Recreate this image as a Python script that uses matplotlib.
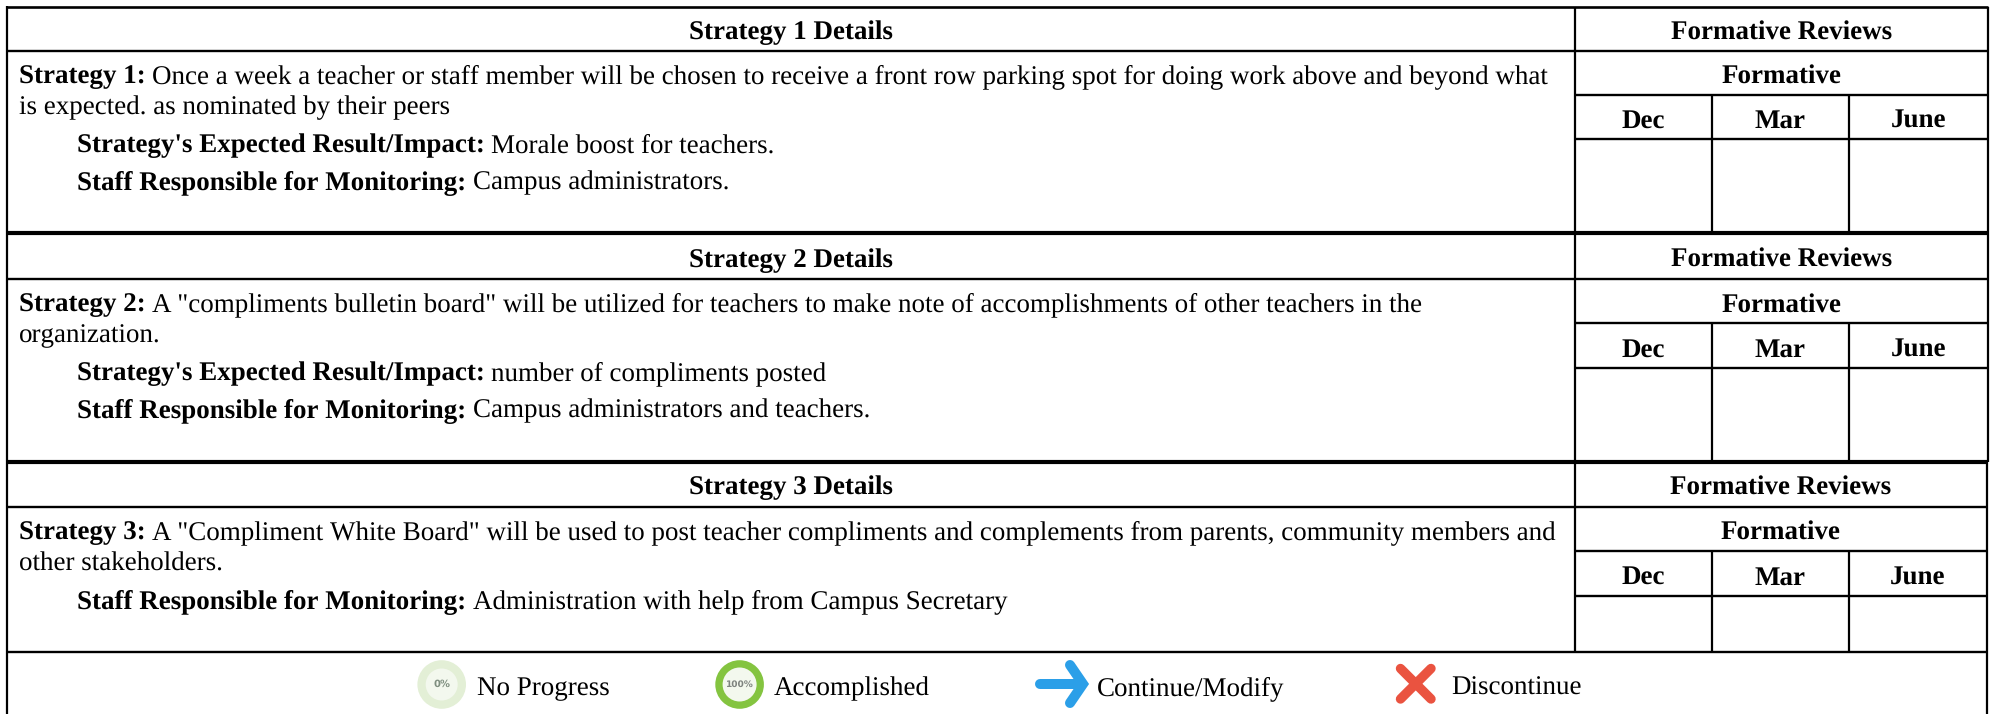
import matplotlib
matplotlib.use("Agg")
import matplotlib.pyplot as plt
from matplotlib.patches import Circle

plt.rcParams['font.family'] = ['Liberation Serif', 'DejaVu Serif']
plt.rcParams['text.hinting'] = 'none'
plt.rcParams['text.hinting_factor'] = 1

W, H = 1993, 714
FS = 19.5

# horizontal rules of each block: top, header, formative, months, bottom
block_rows = [[7, 51, 95, 139, 233], [233, 279, 323, 368, 461.5], [461.5, 507, 551, 596, 652]]
block_right = [1988, 1988, 1987]
col_x = [7, 1575, 1712, 1849]
title_shift = [0, 1.5, 0.5]

header_titles = ["Strategy 1 Details", "Strategy 2 Details", "Strategy 3 Details"]
review_title = "Formative Reviews"
formative_title = "Formative"
months = ["Dec", "Mar", "June"]

strategy_labels = ["Strategy 1:", "Strategy 2:", "Strategy 3:"]
strategy_lines = [
    ["Once a week a teacher or staff member will be chosen to receive a front row parking spot for doing work above and beyond what",
     "is expected. as nominated by their peers"],
    ["A \"compliments bulletin board\" will be utilized for teachers to make note of accomplishments of other teachers in the",
     "organization."],
    ["A \"Compliment White Board\" will be used to post teacher compliments and complements from parents, community members and",
     "other stakeholders."],
]
detail_rows = [
    [("Strategy's Expected Result/Impact:", "Morale boost for teachers."),
     ("Staff Responsible for Monitoring:", "Campus administrators.")],
    [("Strategy's Expected Result/Impact:", "number of compliments posted"),
     ("Staff Responsible for Monitoring:", "Campus administrators and teachers.")],
    [("Staff Responsible for Monitoring:", "Administration with help from Campus Secretary")],
]
legend_labels = ["No Progress", "Accomplished", "Continue/Modify", "Discontinue"]
legend_text_x = [477, 774, 1097, 1451]

fig = plt.figure(figsize=(W / 100, H / 100), dpi=100)
ax = fig.add_axes([0, 0, 1, 1])
ax.set_xlim(0, W)
ax.set_ylim(H, 0)
ax.axis("off")


def hline(y, x0, x1, lw=1.7):
    ax.plot([x0, x1], [y, y], color="black", lw=lw, solid_capstyle="butt")


def vline(x, y0, y1, lw=1.6):
    ax.plot([x, x], [y0, y1], color="black", lw=lw, solid_capstyle="butt")


def mixed(x, y, bold, normal):
    t = ax.text(x, y, bold, fontsize=FS, fontweight="bold", va="baseline", ha="left")
    box = t.get_window_extent(fig.canvas.get_renderer())
    ax.text(box.x1 + 6.5, y, normal, fontsize=FS, va="baseline", ha="left")


def centered(x, y, s):
    ax.text(x, y, s, fontsize=FS, fontweight="bold", ha="center", va="baseline")


for i, rows in enumerate(block_rows):
    top, head, form, mon, bot = rows
    right = block_right[i]
    shift = title_shift[i]
    vline(col_x[1], top, bot)
    vline(col_x[2], form, bot)
    vline(col_x[3], form, bot)
    vline(right, top, bot)
    hline(top, col_x[0], right, 1.9 if i == 0 else 3.0)
    hline(head, col_x[0], right)
    hline(form, col_x[1], right)
    hline(mon, col_x[1], right)

    centered((col_x[0] + col_x[1]) / 2, top + 32.5 + shift, header_titles[i])
    centered((col_x[1] + right) / 2, top + 32.5 + shift, review_title)
    centered((col_x[1] + right) / 2, head + 32.5 + shift / 2, formative_title)
    edges = col_x[1:] + [right]
    for j, m in enumerate(months):
        centered((edges[j] + edges[j + 1]) / 2, form + 33 + shift / 2, m)

    mixed(19, head + 32, strategy_labels[i], strategy_lines[i][0])
    ax.text(19, head + 63.5, strategy_lines[i][1], fontsize=FS, va="baseline", ha="left")
    for k, (b, n) in enumerate(detail_rows[i]):
        mixed(77, head + 101.5 + k * 37, b, n)

hline(652, col_x[0], block_right[2])
vline(col_x[0], 6, H)
vline(block_right[2], 652, H)

# legend icons
ax.add_patch(Circle((441.7, 684.5), 24.3, fc="#e3efd6", ec="none"))
ax.add_patch(Circle((441.7, 684.5), 16, fc="#f3f8ee", ec="none"))
ax.text(441.7, 684.5, "0%", fontsize=7, fontweight="bold", color="#7f8f80",
        family="DejaVu Sans", ha="center", va="center")
ax.add_patch(Circle((739.6, 684.5), 24.3, fc="#84c440", ec="none"))
ax.add_patch(Circle((739.6, 684.5), 17, fc="#f3f8ee", ec="none"))
ax.text(739.6, 684.5, "100%", fontsize=6.5, fontweight="bold", color="#7f8480",
        family="DejaVu Sans", ha="center", va="center")

blue = "#2b9fe8"
ax.plot([1040, 1078], [684, 684], color=blue, lw=7.2, solid_capstyle="round")
ax.plot([1070, 1083, 1070], [665, 684, 703], color=blue, lw=7.2,
        solid_capstyle="round", solid_joinstyle="miter")
red = "#ea5340"
ax.plot([1400.5, 1431], [668.5, 699], color=red, lw=6.8, solid_capstyle="round")
ax.plot([1431, 1400.5], [668.5, 699], color=red, lw=6.8, solid_capstyle="round")

for x, lab in zip(legend_text_x, legend_labels):
    ax.text(x, 695, lab, fontsize=FS, ha="left", va="baseline")

fig.savefig("out.png", dpi=100)
